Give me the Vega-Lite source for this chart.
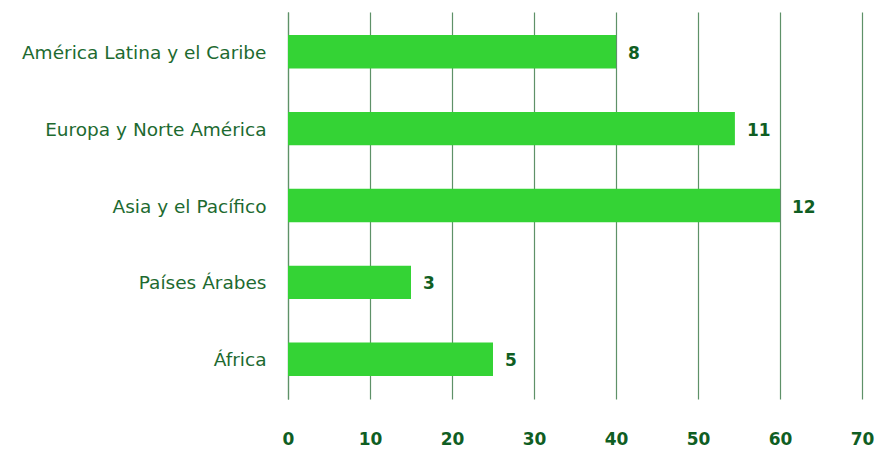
{
  "$schema": "https://vega.github.io/schema/vega-lite/v6.json",
  "autosize": "none",
  "width": 574,
  "height": 387,
  "padding": {"left": 288, "top": 12, "right": 15, "bottom": 52},
  "background": "white",
  "data": {
    "values": [
      {"region": "América Latina y el Caribe", "valor": 40, "etiqueta": "8"},
      {"region": "Europa y Norte América", "valor": 54.5, "etiqueta": "11"},
      {"region": "Asia y el Pacífico", "valor": 60, "etiqueta": "12"},
      {"region": "Países Árabes", "valor": 15, "etiqueta": "3"},
      {"region": "África", "valor": 25, "etiqueta": "5"}
    ]
  },
  "encoding": {
    "y": {
      "field": "region",
      "type": "nominal",
      "sort": null,
      "scale": {"paddingInner": 0.565, "paddingOuter": 0.3},
      "axis": {
        "title": null,
        "ticks": false,
        "domain": true,
        "domainColor": "#5e9168",
        "domainWidth": 1.2,
        "labelFont": "DejaVu Sans",
        "labelFontSize": 18.5,
        "labelColor": "#1d6a30",
        "labelPadding": 22,
        "labelLimit": 300,
        "labelOffset": 1,
        "grid": false
      }
    },
    "x": {
      "field": "valor",
      "type": "quantitative",
      "scale": {"domain": [0, 70]},
      "axis": {
        "title": null,
        "values": [0, 10, 20, 30, 40, 50, 60, 70],
        "ticks": false,
        "domain": false,
        "grid": true,
        "gridColor": "#5e9168",
        "gridOpacity": 1,
        "gridWidth": 1.2,
        "labelFont": "DejaVu Sans",
        "labelFontWeight": "bold",
        "labelFontSize": 17,
        "labelColor": "#0f5e23",
        "labelPadding": 32,
        "labelFlush": false
      }
    }
  },
  "layer": [
    {"mark": {"type": "bar", "color": "#34d335"}},
    {
      "mark": {"type": "text", "align": "left", "dx": 12, "dy": 2, "font": "DejaVu Sans", "fontWeight": "bold", "fontSize": 17, "color": "#0f5e23"},
      "encoding": {"text": {"field": "etiqueta"}}
    }
  ],
  "config": {"view": {"stroke": null}}
}
